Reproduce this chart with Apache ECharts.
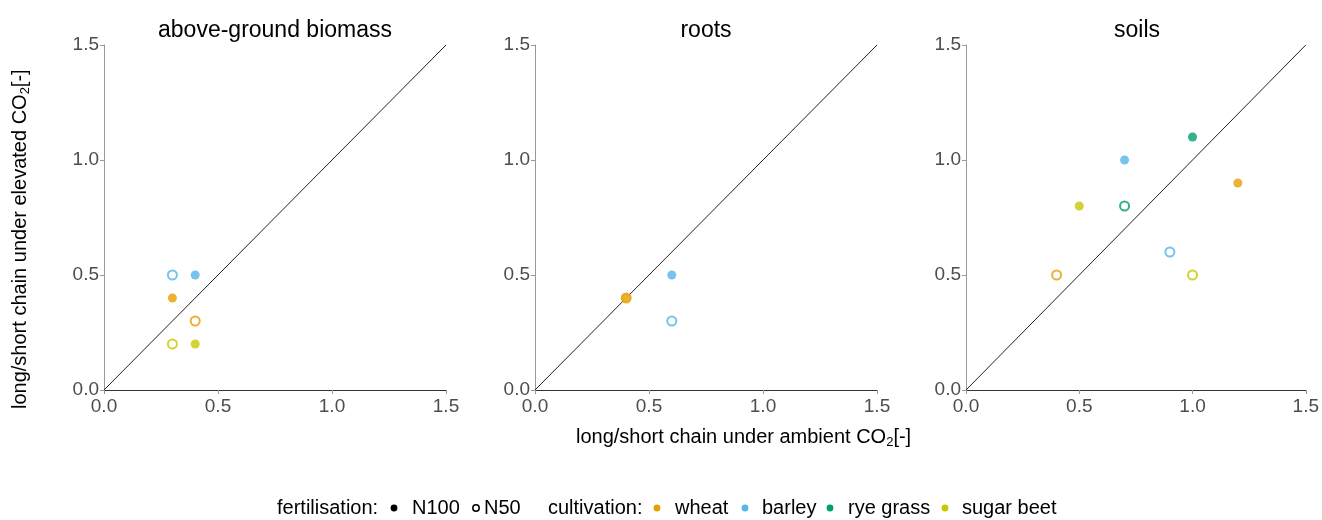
<!DOCTYPE html>
<html><head><meta charset="utf-8">
<script src="https://cdn.jsdelivr.net/npm/echarts@6/dist/echarts.min.js"></script>
<style>html,body{margin:0;padding:0;background:#fff}#c{width:1322px;height:520px}</style>
</head><body><div id="c"></div>
<script>
const panels = ['above-ground biomass', 'roots', 'soils'];
const crops = ['wheat', 'barley', 'rye grass', 'sugar beet'];
const cropColors = ['#E69F00', '#56B4E9', '#009E73', '#C8C800'];
const fertLevels = ['N100', 'N50'];
const ticks = [0, 0.5, 1.0, 1.5];
// [panel, crop, ambient, elevated]
const pointsN100 = [
  [0, 'barley', 0.4, 0.5],
  [0, 'wheat', 0.3, 0.4],
  [0, 'sugar beet', 0.4, 0.2],
  [1, 'wheat', 0.4, 0.4],
  [1, 'barley', 0.6, 0.5],
  [2, 'rye grass', 1.0, 1.1],
  [2, 'barley', 0.7, 1.0],
  [2, 'wheat', 1.2, 0.9],
  [2, 'sugar beet', 0.5, 0.8]
];
const pointsN50 = [
  [0, 'barley', 0.3, 0.5],
  [0, 'wheat', 0.4, 0.3],
  [0, 'sugar beet', 0.3, 0.2],
  [1, 'wheat', 0.4, 0.4],
  [1, 'barley', 0.6, 0.3],
  [2, 'rye grass', 0.7, 0.8],
  [2, 'barley', 0.9, 0.6],
  [2, 'wheat', 0.4, 0.5],
  [2, 'sugar beet', 1.0, 0.5]
];

const font = 'Liberation Sans, Arial, sans-serif';
const lefts = [104, 535, 966];
const grids = [], xAxes = [], yAxes = [], series = [], titles = [];
panels.forEach((p, i) => {
  grids.push({left: lefts[i], top: 45, width: 342, height: 345});
  const lbl = {fontFamily: font, fontSize: 19, color: '#4d4d4d', formatter: v => v.toFixed(1), showMinLabel: true, showMaxLabel: true};
  const axBase = {
    type: 'value', min: ticks[0], max: ticks[ticks.length - 1], interval: ticks[1] - ticks[0], gridIndex: i,
    splitLine: {show: false},
    axisTick: {show: true, length: 4, lineStyle: {color: '#999'}}
  };
  xAxes.push(Object.assign({}, axBase, {axisLine: {onZero: false, lineStyle: {color: '#333', width: 1}}, axisLabel: Object.assign({}, lbl, {margin: 7})}));
  yAxes.push(Object.assign({}, axBase, {axisLine: {show: true, onZero: false, lineStyle: {color: '#999', width: 1}}, axisLabel: Object.assign({}, lbl, {margin: 5})}));
  titles.push({text: p, left: lefts[i] + 166, top: 14, textAlign: 'center', textStyle: {fontFamily: font, fontSize: 23, fontWeight: 'normal', color: '#000'}});
  series.push({type: 'line', xAxisIndex: i, yAxisIndex: i, data: [[ticks[0], ticks[0]], [ticks[3], ticks[3]]], symbol: 'none', lineStyle: {color: '#222', width: 1}, silent: true, z: 1});
  crops.forEach((c, k) => {
    const open = pointsN50.filter(d => d[0] === i && d[1] === c).map(d => [d[2], d[3]]);
    const filled = pointsN100.filter(d => d[0] === i && d[1] === c).map(d => [d[2], d[3]]);
    if (open.length) series.push({type: 'scatter', xAxisIndex: i, yAxisIndex: i, data: open, symbol: 'circle', symbolSize: 9,
      itemStyle: {color: '#fff', borderColor: cropColors[k], borderWidth: 2}, z: 3});
    if (filled.length) series.push({type: 'scatter', xAxisIndex: i, yAxisIndex: i, data: filled, symbol: 'circle', symbolSize: 9,
      itemStyle: {color: cropColors[k], borderWidth: 0}, z: 4});
  });
});

// legend layout (pixel positions of the legend row)
const LY = 508;
const legendItems = [];
const txt = (s, x) => legendItems.push({type: 'text', x: x, y: LY, style: {text: s, fontFamily: font, fontSize: 20, fill: '#000', verticalAlign: 'middle'}});
const dot = (cx, color, open) => legendItems.push({type: 'circle', shape: {cx: cx, cy: LY, r: open ? 3.2 : 3.4},
  style: open ? {fill: '#fff', stroke: color, lineWidth: 1.5} : {fill: color}});
txt('fertilisation:', 277);
dot(394, '#000', false); txt(fertLevels[0], 412);
dot(476, '#000', true); txt(fertLevels[1], 484);
txt('cultivation:', 548);
const cropDotX = [657, 745, 830, 945];
const cropTxtX = [675, 762, 848, 962];
crops.forEach((c, k) => { dot(cropDotX[k], cropColors[k], false); txt(c, cropTxtX[k]); });

const sub = {s: {fontSize: 13, fontFamily: font, padding: [10, 0, 0, 0]}};
const chart = echarts.init(document.getElementById('c'), null, {renderer: 'canvas'});
chart.setOption({
  animation: false,
  title: titles,
  grid: grids,
  xAxis: xAxes,
  yAxis: yAxes,
  series: series,
  graphic: [
    {type: 'text', left: 576, top: 427, style: {text: 'long/short chain under ambient CO{s|2}[-]', fontFamily: font, fontSize: 20, fill: '#000', rich: sub}},
    {type: 'text', rotation: Math.PI / 2, x: 9, y: 409, style: {text: 'long/short chain under elevated CO{s|2}[-]', fontFamily: font, fontSize: 20, fill: '#000', rich: sub}}
  ].concat(legendItems)
});
</script></body></html>
